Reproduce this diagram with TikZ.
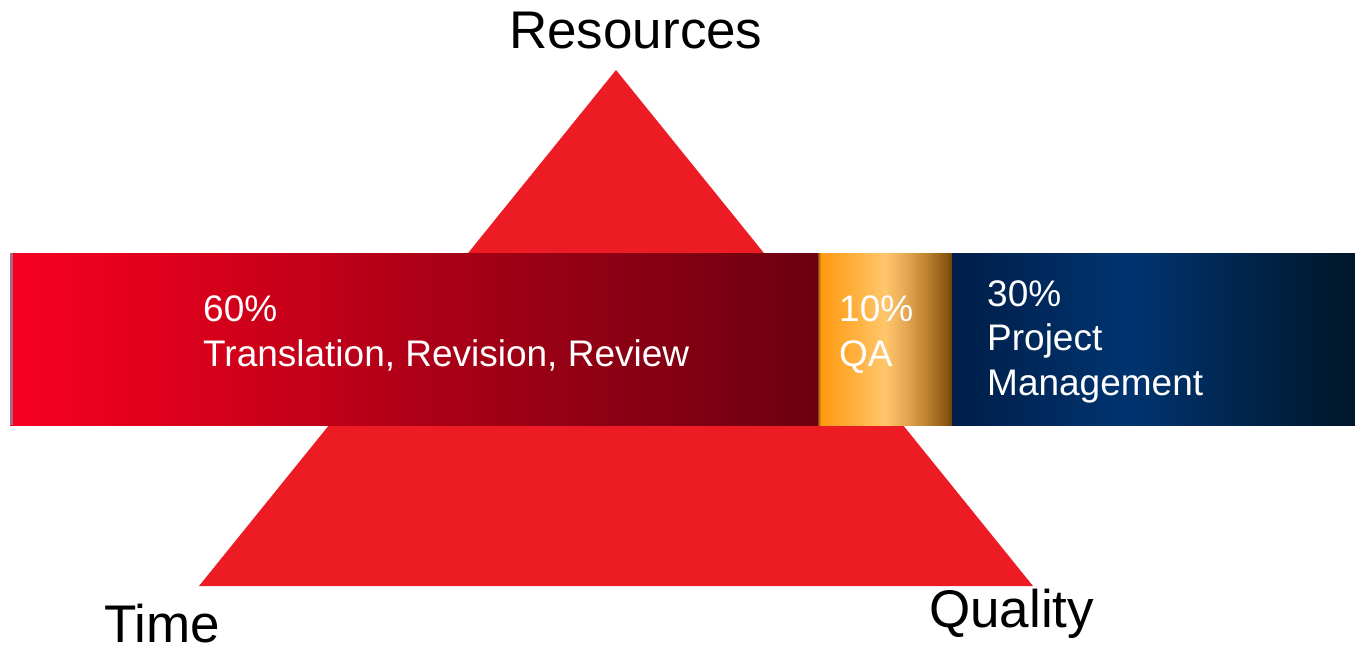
\documentclass[tikz,border=0pt]{standalone}
\usepackage{fontspec}
\setmainfont{Liberation Sans}
\usetikzlibrary{calc}

\definecolor{triRed}{HTML}{ED1C24}
\definecolor{redA}{HTML}{F80022}
\definecolor{redB}{HTML}{D6001A}
\definecolor{redC}{HTML}{AE0018}
\definecolor{redD}{HTML}{8C0013}
\definecolor{redE}{HTML}{6C0010}
\definecolor{goldEdge}{HTML}{8C4A08}
\definecolor{goldA}{HTML}{FF9A12}
\definecolor{goldB}{HTML}{FFAE38}
\definecolor{goldC}{HTML}{FFC66C}
\definecolor{goldD}{HTML}{E8AA55}
\definecolor{goldE}{HTML}{C08530}
\definecolor{goldF}{HTML}{8A5512}
\definecolor{goldG}{HTML}{6E4208}
\definecolor{blueA}{HTML}{001E48}
\definecolor{blueB}{HTML}{003470}
\definecolor{blueC}{HTML}{00162A}
\definecolor{edgeMauve}{HTML}{A86A8A}

% Horizontal shadings; the 25bp--75bp band covers the shaded path
\pgfdeclarehorizontalshading{redband}{100bp}{
  color(0bp)=(redA); color(25bp)=(redA); color(37.5bp)=(redB);
  color(50bp)=(redC); color(62.5bp)=(redD); color(75bp)=(redE); color(100bp)=(redE)}
\pgfdeclarehorizontalshading{goldband}{100bp}{
  color(0bp)=(goldEdge); color(25bp)=(goldEdge); color(26bp)=(goldA);
  color(37.5bp)=(goldB); color(50bp)=(goldC); color(57bp)=(goldD);
  color(65bp)=(goldE); color(73bp)=(goldF); color(75bp)=(goldG); color(100bp)=(goldG)}
\pgfdeclarehorizontalshading{blueband}{100bp}{
  color(0bp)=(blueA); color(25bp)=(blueA); color(47bp)=(blueB);
  color(75bp)=(blueC); color(100bp)=(blueC)}

\begin{document}
\begin{tikzpicture}[x=1pt,y=-1pt,
  cornerlabel/.style={inner sep=0pt, anchor=base west, text=black,
    font=\fontsize{53}{62}\selectfont},
  bandlabel/.style={inner sep=0pt, anchor=base west, text=white, align=left,
    font=\fontsize{37}{44.5}\selectfont}]
  \useasboundingbox (0,0) rectangle (1355,651);

  % triangle of constraints
  \coordinate (apex) at (616,70);
  \coordinate (baseL) at (199,586);
  \coordinate (baseR) at (1033,586);
  \fill[triRed] (apex) -- (baseL) -- (baseR) -- cycle;

  % effort bar
  \shade[shading=redband]  (10,253) rectangle (818,425);
  \shade[shading=goldband] (818,253) rectangle (952,425);
  \shade[shading=blueband] (952,253) rectangle (1355,425);
  \fill[edgeMauve] (10,253) rectangle (12.5,425);

  % corner labels
  \node[cornerlabel] (res) at (509,48) {Resources};
  \node[cornerlabel] (time) at (104,642) {Time};
  \node[cornerlabel] (qual) at (929,627) {Quality};

  % bar labels (anchored at the baseline of the last line)
  \node[bandlabel] (trans) at (203,366) {60\%\\Translation, Revision, Review};
  \node[bandlabel] (qa) at (839,366) {10\%\\QA};
  \node[bandlabel] (pm) at (987,395) {30\%\\Project\\Management};
\end{tikzpicture}
\end{document}
